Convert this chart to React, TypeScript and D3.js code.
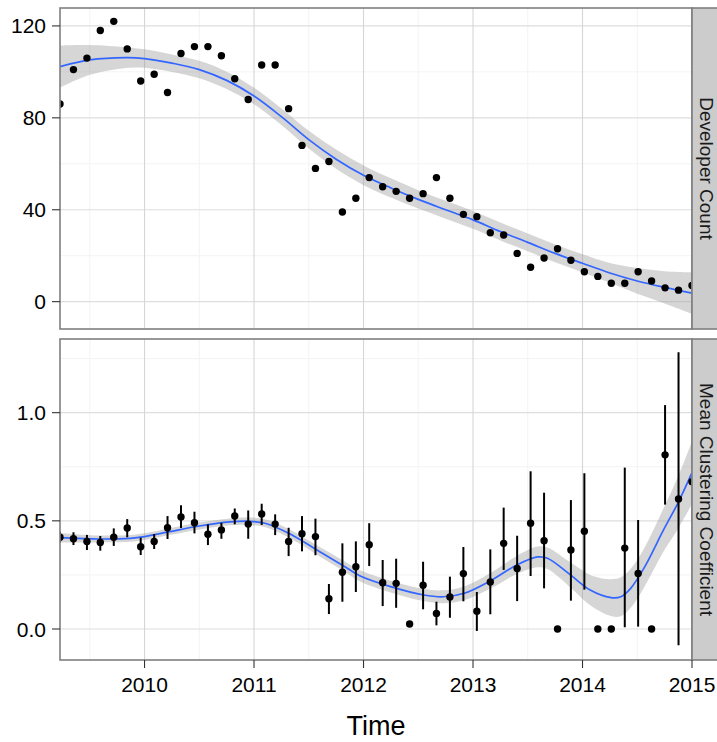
import React from 'react';
import * as d3 from 'd3';

// ---------- DATA ----------
const times = [
  2009.228, 2009.351, 2009.474, 2009.596, 2009.719, 2009.842, 2009.965, 2010.088,
  2010.21, 2010.333, 2010.456, 2010.579, 2010.702, 2010.824, 2010.947, 2011.07,
  2011.193, 2011.316, 2011.438, 2011.561, 2011.684, 2011.807, 2011.93, 2012.052,
  2012.175, 2012.298, 2012.421, 2012.544, 2012.666, 2012.789, 2012.912, 2013.035,
  2013.158, 2013.28, 2013.403, 2013.526, 2013.649, 2013.772, 2013.894, 2014.017,
  2014.14, 2014.263, 2014.386, 2014.508, 2014.631, 2014.754, 2014.877, 2015.0,
];

const developerCount = [
  86, 101, 106, 118, 122, 110, 96, 99, 91, 108, 111, 111, 107, 97, 88, 103,
  103, 84, 68, 58, 61, 39, 45, 54, 50, 48, 45, 47, 54, 45, 38, 37,
  30, 29, 21, 15, 19, 23, 18, 13, 11, 8, 8, 13, 9, 6, 5, 7,
];

const clusteringMean = [
  0.424, 0.417, 0.405, 0.4, 0.424, 0.467, 0.38, 0.405, 0.468, 0.518, 0.491, 0.438,
  0.458, 0.522, 0.485, 0.532, 0.485, 0.405, 0.44, 0.427, 0.14, 0.262, 0.288, 0.39,
  0.214, 0.211, 0.023, 0.202, 0.072, 0.148, 0.256, 0.082, 0.217, 0.396, 0.28, 0.489,
  0.408, 0.0, 0.365, 0.452, 0.0, 0.0, 0.374, 0.257, 0.0, 0.805, 0.601, 0.681,
];
const clusteringLow = [
  0.4, 0.388, 0.365, 0.362, 0.384, 0.424, 0.342, 0.37, 0.416, 0.467, 0.442, 0.388,
  0.417, 0.484, 0.417, 0.481, 0.434, 0.337, 0.359, 0.341, 0.069, 0.126, 0.171, 0.291,
  0.106, 0.098, 0.012, 0.091, 0.017, 0.052, 0.128, -0.009, 0.068, 0.273, 0.129, 0.245,
  0.188, 0.0, 0.131, 0.182, 0.0, 0.0, 0.008, 0.011, 0.0, 0.575, -0.075, 0.681,
];
const clusteringHigh = [
  0.45, 0.447, 0.435, 0.43, 0.465, 0.508, 0.422, 0.439, 0.522, 0.572, 0.542, 0.484,
  0.491, 0.557, 0.548, 0.579, 0.53, 0.468, 0.522, 0.51, 0.208, 0.396, 0.405, 0.489,
  0.319, 0.325, 0.034, 0.311, 0.126, 0.242, 0.379, 0.171, 0.368, 0.561, 0.431, 0.729,
  0.63, 0.0, 0.596, 0.72, 0.0, 0.0, 0.746, 0.504, 0.0, 1.035, 1.279, 0.681,
];

// smoothed (loess) fit
const devSmoothT = [
  2009.228, 2009.5, 2009.83, 2010.0, 2010.25, 2010.5, 2010.75, 2011.0, 2011.25, 2011.5,
  2011.75, 2012.0, 2012.25, 2012.5, 2012.75, 2013.0, 2013.25, 2013.5, 2013.75, 2014.0,
  2014.25, 2014.5, 2014.75, 2015.0,
];
const devSmoothFit = [
  102.3, 105.2, 106.2, 105.8, 103.8, 101.0, 96.3, 89.5, 80.5, 70.5,
  62.0, 55.0, 49.5, 44.5, 40.0, 35.6, 30.5, 25.8, 21.0, 16.7,
  12.5, 9.0, 6.2, 3.7,
];
const devSmoothSE = [
  9.2, 6.5, 4.5, 4.0, 3.8, 3.8, 3.8, 3.6, 3.6, 3.9,
  4.2, 4.3, 4.2, 4.0, 3.9, 3.9, 3.9, 3.9, 3.9, 3.9,
  4.3, 5.6, 7.0, 9.0,
];

const ccSmoothT = [
  2009.228, 2009.59, 2009.87, 2010.0, 2010.23, 2010.5, 2010.78, 2010.96, 2011.1, 2011.33,
  2011.6, 2011.83, 2011.97, 2012.24, 2012.55, 2012.73, 2012.92, 2013.16, 2013.4, 2013.59,
  2013.68, 2013.89, 2014.07, 2014.26, 2014.35, 2014.44, 2014.56, 2014.74, 2014.87, 2015.0,
];
const ccSmoothFit = [
  0.422, 0.416, 0.419, 0.427, 0.45, 0.476, 0.495, 0.498, 0.489, 0.439,
  0.357, 0.288, 0.245, 0.197, 0.157, 0.149, 0.165, 0.223, 0.296, 0.333,
  0.327, 0.25, 0.18, 0.145, 0.149, 0.188, 0.28, 0.458, 0.581, 0.723,
];
const ccSmoothSE = [
  0.022, 0.016, 0.016, 0.016, 0.016, 0.016, 0.016, 0.017, 0.018, 0.02,
  0.022, 0.024, 0.026, 0.027, 0.028, 0.03, 0.032, 0.036, 0.042, 0.048,
  0.05, 0.058, 0.07, 0.085, 0.09, 0.09, 0.09, 0.1, 0.12, 0.145,
];

const xTicks = [2010, 2011, 2012, 2013, 2014, 2015];
const xMinorTicks = [2009.5, 2010.5, 2011.5, 2012.5, 2013.5, 2014.5];
const devTicks = [0, 40, 80, 120];
const devMinorTicks = [20, 60, 100];
const ccTicks = [0, 0.5, 1.0];
const ccMinorTicks = [0.25, 0.75, 1.25];
const panelTitles = ['Developer Count', 'Mean Clustering Coefficient'];
const xTitle = 'Time';

// ---------- CHART ----------
const FONT = '"Liberation Sans", Arial, Helvetica, sans-serif';
const L = 60;
const R = 692;

export default function App() {
  const x = d3.scaleLinear().domain([2009.228, 2015.0]).range([L, R]);

  const panels = [
    {
      id: 'dev',
      top: 8,
      bottom: 329,
      y: d3.scaleLinear().domain([-11.9, 127.8]).range([329, 8]),
      ticks: devTicks,
      fmt: (v: number) => d3.format('d')(v),
      minor: devMinorTicks,
      smoothT: devSmoothT,
      fit: devSmoothFit,
      se: devSmoothSE,
      title: panelTitles[0],
    },
    {
      id: 'cc',
      top: 339,
      bottom: 660,
      y: d3.scaleLinear().domain([-0.1433, 1.3405]).range([660, 339]),
      ticks: ccTicks,
      fmt: (v: number) => d3.format('.1f')(v),
      minor: ccMinorTicks,
      smoothT: ccSmoothT,
      fit: ccSmoothFit,
      se: ccSmoothSE,
      title: panelTitles[1],
    },
  ];

  return (
    <svg
      width={717}
      height={742}
      style={{ position: 'absolute', left: 0, top: 0, background: '#fff' }}
      fontFamily={FONT}
    >
      <defs>
        {panels.map((p) => (
          <clipPath id={`clip-${p.id}`} key={p.id}>
            <rect x={L} y={p.top} width={R - L} height={p.bottom - p.top} />
          </clipPath>
        ))}
      </defs>
      {panels.map((p) => {
        const y = p.y;
        const idx = d3.range(p.smoothT.length);
        const area = d3
          .area<number>()
          .x((i) => x(p.smoothT[i]))
          .y0((i) => y(p.fit[i] - p.se[i]))
          .y1((i) => y(p.fit[i] + p.se[i]))
          .curve(d3.curveCatmullRom.alpha(0.5));
        const line = d3
          .line<number>()
          .x((i) => x(p.smoothT[i]))
          .y((i) => y(p.fit[i]))
          .curve(d3.curveCatmullRom.alpha(0.5));
        return (
          <g key={p.id}>
            <rect x={L} y={p.top} width={R - L} height={p.bottom - p.top} fill="#fff" />
            <g clipPath={`url(#clip-${p.id})`}>
              {p.minor.map((v) => (
                <line key={'ym' + v} x1={L} x2={R} y1={y(v)} y2={y(v)} stroke="#f3f3f3" strokeWidth={1} />
              ))}
              {xMinorTicks.map((v) => (
                <line key={'xm' + v} x1={x(v)} x2={x(v)} y1={p.top} y2={p.bottom} stroke="#f3f3f3" strokeWidth={1} />
              ))}
              {p.ticks.map((v) => (
                <line key={'yM' + v} x1={L} x2={R} y1={y(v)} y2={y(v)} stroke="#dedede" strokeWidth={1.1} />
              ))}
              {xTicks.map((v) => (
                <line key={'xM' + v} x1={x(v)} x2={x(v)} y1={p.top} y2={p.bottom} stroke="#d6d6d6" strokeWidth={1.1} />
              ))}
              <path d={area(idx) || ''} fill="#999999" fillOpacity={0.4} />
              <path d={line(idx) || ''} fill="none" stroke="#3366FF" strokeWidth={1.7} />
              {p.id === 'dev' &&
                times.map((t, i) => (
                  <circle key={i} cx={x(t)} cy={y(developerCount[i])} r={3.7} fill="#000" />
                ))}
              {p.id === 'cc' &&
                times.map((t, i) => (
                  <g key={i}>
                    {clusteringHigh[i] > clusteringLow[i] && (
                      <line
                        x1={x(t)}
                        x2={x(t)}
                        y1={y(clusteringLow[i])}
                        y2={y(clusteringHigh[i])}
                        stroke="#000"
                        strokeWidth={2}
                      />
                    )}
                    <circle cx={x(t)} cy={y(clusteringMean[i])} r={3.7} fill="#000" />
                  </g>
                ))}
            </g>
            <rect
              x={L}
              y={p.top}
              width={R - L}
              height={p.bottom - p.top}
              fill="none"
              stroke="#7f7f7f"
              strokeWidth={1.6}
            />
            {/* y axis */}
            {p.ticks.map((v) => (
              <g key={'yt' + v}>
                <line x1={L - 8} x2={L} y1={y(v)} y2={y(v)} stroke="#333" strokeWidth={1.1} />
                <text x={L - 14} y={y(v)} dy="0.36em" textAnchor="end" fontSize={21} fill="#000">
                  {p.fmt(v)}
                </text>
              </g>
            ))}
            {/* strip */}
            <rect x={R} y={p.top} width={30} height={p.bottom - p.top} fill="#cccccc" stroke="#7f7f7f" strokeWidth={1.6} />
            <text
              transform={`translate(${R + 7.5},${(p.top + p.bottom) / 2}) rotate(90)`}
              textAnchor="middle"
              fontSize={19}
              fill="#1a1a1a"
            >
              {p.title}
            </text>
          </g>
        );
      })}
      {/* x axis */}
      {xTicks.map((v) => (
        <g key={'xt' + v}>
          <line x1={x(v)} x2={x(v)} y1={660} y2={668} stroke="#333" strokeWidth={1.1} />
          <text x={x(v)} y={692} textAnchor="middle" fontSize={21} fill="#000">
            {v}
          </text>
        </g>
      ))}
      <text x={(L + R) / 2} y={735} textAnchor="middle" fontSize={27} fill="#000">
        {xTitle}
      </text>
    </svg>
  );
}
